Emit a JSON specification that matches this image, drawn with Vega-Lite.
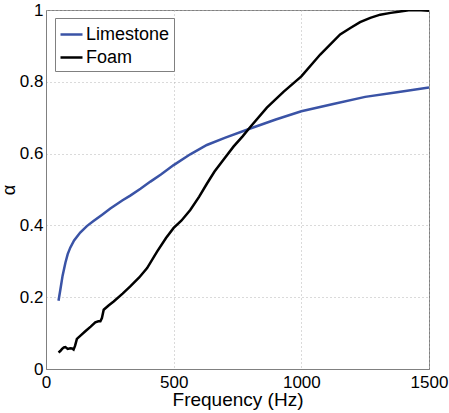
{
  "$schema": "https://vega.github.io/schema/vega-lite/v6.json",
  "autosize": "none",
  "width": 383,
  "height": 359,
  "padding": {"left": 46, "top": 10, "right": 20, "bottom": 44},
  "background": "white",
  "config": {
    "font": "Liberation Sans",
    "view": {"stroke": "#808080", "strokeWidth": 1},
    "axis": {
      "domainColor": "#808080",
      "gridColor": "#b5b5b5",
      "gridDash": [1, 3],
      "gridWidth": 1,
      "ticks": false,
      "labelColor": "black",
      "titleColor": "black",
      "labelFontSize": 17,
      "titleFontSize": 19,
      "titleFontWeight": "normal"
    }
  },
  "data": {
    "values": [
      {"f": 49, "a": 0.19, "m": "Limestone"},
      {"f": 56, "a": 0.22, "m": "Limestone"},
      {"f": 65, "a": 0.26, "m": "Limestone"},
      {"f": 76, "a": 0.296, "m": "Limestone"},
      {"f": 85, "a": 0.32, "m": "Limestone"},
      {"f": 95, "a": 0.338, "m": "Limestone"},
      {"f": 110, "a": 0.358, "m": "Limestone"},
      {"f": 134, "a": 0.38, "m": "Limestone"},
      {"f": 160, "a": 0.398, "m": "Limestone"},
      {"f": 186, "a": 0.412, "m": "Limestone"},
      {"f": 220, "a": 0.43, "m": "Limestone"},
      {"f": 252, "a": 0.447, "m": "Limestone"},
      {"f": 300, "a": 0.47, "m": "Limestone"},
      {"f": 330, "a": 0.483, "m": "Limestone"},
      {"f": 370, "a": 0.502, "m": "Limestone"},
      {"f": 409, "a": 0.522, "m": "Limestone"},
      {"f": 450, "a": 0.542, "m": "Limestone"},
      {"f": 500, "a": 0.568, "m": "Limestone"},
      {"f": 565, "a": 0.598, "m": "Limestone"},
      {"f": 630, "a": 0.624, "m": "Limestone"},
      {"f": 700, "a": 0.644, "m": "Limestone"},
      {"f": 800, "a": 0.67, "m": "Limestone"},
      {"f": 900, "a": 0.695, "m": "Limestone"},
      {"f": 1000, "a": 0.718, "m": "Limestone"},
      {"f": 1125, "a": 0.738, "m": "Limestone"},
      {"f": 1250, "a": 0.758, "m": "Limestone"},
      {"f": 1375, "a": 0.771, "m": "Limestone"},
      {"f": 1500, "a": 0.784, "m": "Limestone"},
      {"f": 49, "a": 0.046, "m": "Foam"},
      {"f": 56, "a": 0.05, "m": "Foam"},
      {"f": 63, "a": 0.056, "m": "Foam"},
      {"f": 70, "a": 0.06, "m": "Foam"},
      {"f": 76, "a": 0.061, "m": "Foam"},
      {"f": 85, "a": 0.056, "m": "Foam"},
      {"f": 95, "a": 0.058, "m": "Foam"},
      {"f": 102, "a": 0.057, "m": "Foam"},
      {"f": 108, "a": 0.054, "m": "Foam"},
      {"f": 114, "a": 0.065, "m": "Foam"},
      {"f": 121, "a": 0.084, "m": "Foam"},
      {"f": 135, "a": 0.093, "m": "Foam"},
      {"f": 154, "a": 0.105, "m": "Foam"},
      {"f": 175, "a": 0.118, "m": "Foam"},
      {"f": 193, "a": 0.13, "m": "Foam"},
      {"f": 205, "a": 0.133, "m": "Foam"},
      {"f": 213, "a": 0.133, "m": "Foam"},
      {"f": 219, "a": 0.142, "m": "Foam"},
      {"f": 226, "a": 0.165, "m": "Foam"},
      {"f": 245, "a": 0.177, "m": "Foam"},
      {"f": 265, "a": 0.188, "m": "Foam"},
      {"f": 300, "a": 0.21, "m": "Foam"},
      {"f": 330, "a": 0.23, "m": "Foam"},
      {"f": 365, "a": 0.255, "m": "Foam"},
      {"f": 396, "a": 0.281, "m": "Foam"},
      {"f": 435, "a": 0.327, "m": "Foam"},
      {"f": 470, "a": 0.365, "m": "Foam"},
      {"f": 500, "a": 0.393, "m": "Foam"},
      {"f": 530, "a": 0.413, "m": "Foam"},
      {"f": 565, "a": 0.443, "m": "Foam"},
      {"f": 600, "a": 0.48, "m": "Foam"},
      {"f": 630, "a": 0.516, "m": "Foam"},
      {"f": 660, "a": 0.55, "m": "Foam"},
      {"f": 695, "a": 0.583, "m": "Foam"},
      {"f": 735, "a": 0.62, "m": "Foam"},
      {"f": 770, "a": 0.648, "m": "Foam"},
      {"f": 800, "a": 0.674, "m": "Foam"},
      {"f": 865, "a": 0.728, "m": "Foam"},
      {"f": 930, "a": 0.772, "m": "Foam"},
      {"f": 1000, "a": 0.815, "m": "Foam"},
      {"f": 1074, "a": 0.876, "m": "Foam"},
      {"f": 1152, "a": 0.932, "m": "Foam"},
      {"f": 1192, "a": 0.95, "m": "Foam"},
      {"f": 1230, "a": 0.966, "m": "Foam"},
      {"f": 1270, "a": 0.978, "m": "Foam"},
      {"f": 1309, "a": 0.987, "m": "Foam"},
      {"f": 1350, "a": 0.992, "m": "Foam"},
      {"f": 1387, "a": 0.996, "m": "Foam"},
      {"f": 1420, "a": 0.999, "m": "Foam"},
      {"f": 1453, "a": 1.0, "m": "Foam"},
      {"f": 1500, "a": 0.998, "m": "Foam"}
    ]
  },
  "mark": {"type": "line", "strokeWidth": 2.5, "clip": true},
  "encoding": {
    "x": {
      "field": "f",
      "type": "quantitative",
      "scale": {"domain": [0, 1500], "nice": false, "zero": false},
      "axis": {
        "title": "Frequency (Hz)",
        "values": [0, 500, 1000, 1500],
        "format": "d",
        "labelPadding": 5,
        "labelFlush": false,
        "labelBound": false,
        "titlePadding": 0
      }
    },
    "y": {
      "field": "a",
      "type": "quantitative",
      "scale": {"domain": [0, 1], "nice": false},
      "axis": {
        "title": "α",
        "titleFontSize": 18,
        "values": [0, 0.2, 0.4, 0.6, 0.8, 1],
        "format": ".1~f",
        "labelPadding": 3,
        "labelFlush": false,
        "titlePadding": 1
      }
    },
    "color": {
      "field": "m",
      "type": "nominal",
      "sort": ["Limestone", "Foam"],
      "scale": {"domain": ["Limestone", "Foam"], "range": ["#3a53a6", "#000000"]},
      "legend": {
        "title": null,
        "orient": "none",
        "legendX": 9,
        "legendY": 8,
        "symbolType": "stroke",
        "symbolSize": 484,
        "symbolStrokeWidth": 2.5,
        "labelFontSize": 18,
        "labelColor": "black",
        "labelOffset": 2,
        "rowPadding": 1,
        "padding": 4,
        "strokeColor": "#808080",
        "fillColor": "white",
        "cornerRadius": 0
      }
    }
  }
}
